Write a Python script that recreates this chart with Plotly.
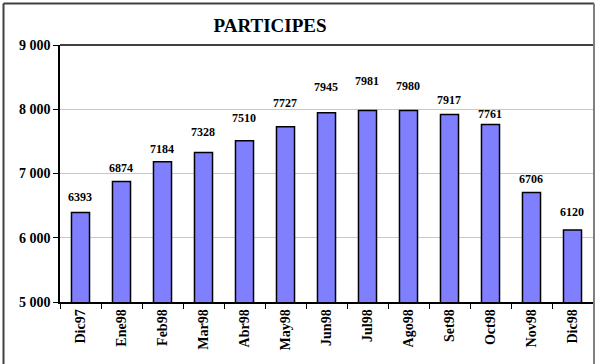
import plotly.graph_objects as go

categories = ["Dic97", "Ene98", "Feb98", "Mar98", "Abr98", "May98", "Jun98",
              "Jul98", "Ago98", "Set98", "Oct98", "Nov98", "Dic98"]
values = [6393, 6874, 7184, 7328, 7510, 7727, 7945, 7981, 7980, 7917, 7761, 6706, 6120]
y_ticks = [5000, 6000, 7000, 8000, 9000]
y_tick_labels = ["5 000", "6 000", "7 000", "8 000", "9 000"]
title_text = "PARTICIPES"

# layout only: vertical pixel offsets of the value labels above each bar
label_offsets = [16, 14, 13, 20, 23, 24, 26, 29, 25, 15, 11, 13, 18]

FONT = "Liberation Serif, Times New Roman, serif"

fig = go.Figure()
fig.add_trace(go.Bar(
    x=categories, y=values,
    marker=dict(color="#8080FF", line=dict(color="black", width=1.5)),
    hoverinfo="x+y",
))

for c, v, off in zip(categories, values, label_offsets):
    fig.add_annotation(x=c, y=v, text=f"<b>{v}</b>", showarrow=False,
                       yanchor="middle", yshift=off, xshift=-1,
                       font=dict(family=FONT, size=12, color="black"))

fig.update_layout(
    width=598, height=364,
    margin=dict(l=60, r=5, t=45, b=62, autoexpand=False),
    paper_bgcolor="white", plot_bgcolor="white",
    bargap=0.56,
    showlegend=False,
    title=dict(text=f"<b>{title_text}</b>", x=270 / 598, xanchor="center",
               y=1 - 25 / 364, yanchor="middle",
               font=dict(family=FONT, size=19, color="black")),
    font=dict(family=FONT, color="black"),
)

fig.update_yaxes(
    range=[5000, 9000], tickvals=y_ticks,
    ticktext=[f"<b>{t}</b>" for t in y_tick_labels],
    tickfont=dict(family=FONT, size=14, color="black"),
    showgrid=True, gridcolor="#C8C8C8", gridwidth=1,
    showline=True, linecolor="black", linewidth=1.5,
    ticks="outside", ticklen=5, tickcolor="black", tickwidth=1,
    zeroline=False, fixedrange=True, automargin=False,
)
fig.update_xaxes(
    range=[-0.5, len(categories) - 0.5],
    tickvals=categories,
    ticktext=[f"<b>{c}</b>" for c in categories],
    tickangle=-90,
    tickfont=dict(family=FONT, size=14, color="black"),
    showline=True, linecolor="black", linewidth=1.5,
    ticks="outside", ticklen=5, tickcolor="black", tickwidth=1,
    tickson="boundaries", showgrid=False, fixedrange=True, automargin=False,
)

# Plot frame top (black) and outer chart border (gray)
fig.add_shape(type="line", xref="paper", yref="paper", x0=0, x1=1, y0=1, y1=1,
              line=dict(color="black", width=1.5))
px_w, px_h = 533, 257
def px(xp):
    return (xp - 60) / px_w
def py(yp):
    return (302 - yp) / px_h
border = dict(color="#404040", width=2)
fig.add_shape(type="line", xref="paper", yref="paper", x0=px(3.5), x1=px(3.5),
              y0=py(3.5), y1=py(370), line=border)
fig.add_shape(type="line", xref="paper", yref="paper", x0=px(3.5), x1=px(594),
              y0=py(3.5), y1=py(3.5), line=border)
fig.add_shape(type="line", xref="paper", yref="paper", x0=px(594), x1=px(594),
              y0=py(3.5), y1=py(370), line=dict(color="#808080", width=2))

fig.write_html("out.html", config={"displayModeBar": False},
               post_script="document.body.style.margin='0';document.body.style.overflow='hidden';")
